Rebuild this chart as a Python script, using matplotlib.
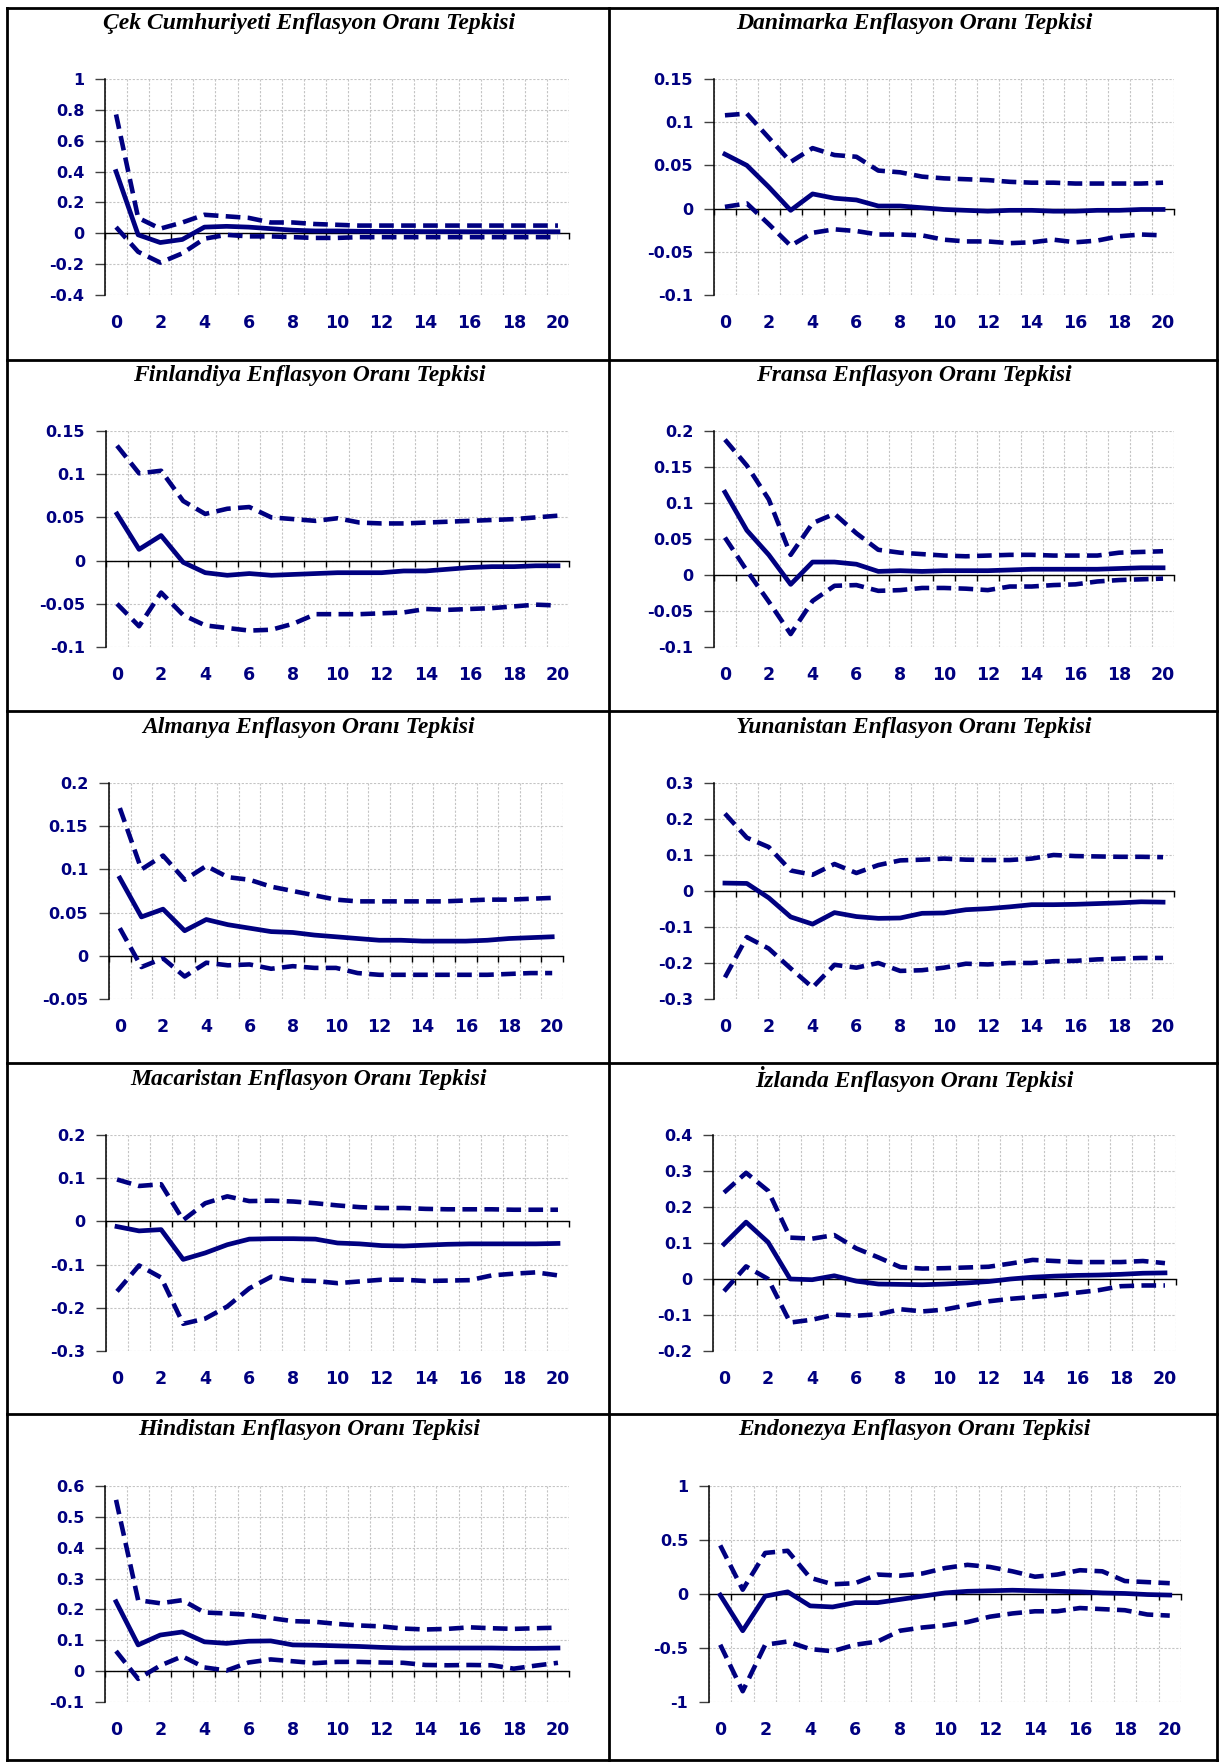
import numpy as np
import matplotlib
matplotlib.use('Agg')
import matplotlib.pyplot as plt
from matplotlib.lines import Line2D
from matplotlib.ticker import FuncFormatter

plt.rcParams['font.family'] = ['DejaVu Sans']
plt.rcParams['font.weight'] = 'bold'

navy = '#000080'
periods = np.arange(21)

titles = ['Çek Cumhuriyeti Enflasyon Oranı Tepkisi', 'Danimarka Enflasyon Oranı Tepkisi',
          'Finlandiya Enflasyon Oranı Tepkisi', 'Fransa Enflasyon Oranı Tepkisi',
          'Almanya Enflasyon Oranı Tepkisi', 'Yunanistan Enflasyon Oranı Tepkisi',
          'Macaristan Enflasyon Oranı Tepkisi', 'İzlanda Enflasyon Oranı Tepkisi',
          'Hindistan Enflasyon Oranı Tepkisi', 'Endonezya Enflasyon Oranı Tepkisi']

# impulse responses: point estimate, upper band, lower band
cek_mid = [0.40, -0.01, -0.06, -0.04, 0.04, 0.045, 0.04, 0.03, 0.02, 0.015, 0.015,
           0.013, 0.012, 0.012, 0.011, 0.011, 0.01, 0.01, 0.01, 0.01, 0.01]
cek_up = [0.77, 0.10, 0.03, 0.07, 0.12, 0.11, 0.10, 0.07, 0.07, 0.06, 0.055,
          0.05, 0.05, 0.05, 0.05, 0.05, 0.05, 0.05, 0.05, 0.05, 0.05]
cek_lo = [0.04, -0.12, -0.19, -0.13, -0.035, -0.01, -0.02, -0.02, -0.025, -0.03, -0.03,
          -0.025, -0.025, -0.025, -0.025, -0.025, -0.025, -0.025, -0.025, -0.025, -0.025]

dan_mid = [0.063, 0.050, 0.025, -0.002, 0.017, 0.012, 0.010, 0.003, 0.003, 0.001, -0.001,
           -0.002, -0.003, -0.002, -0.002, -0.003, -0.003, -0.002, -0.002, -0.001, -0.001]
dan_up = [0.108, 0.110, 0.082, 0.054, 0.070, 0.062, 0.060, 0.044, 0.042, 0.037, 0.035,
          0.034, 0.033, 0.031, 0.030, 0.030, 0.029, 0.029, 0.029, 0.029, 0.030]
dan_lo = [0.002, 0.006, -0.018, -0.043, -0.028, -0.024, -0.026, -0.030, -0.030, -0.031, -0.036,
          -0.038, -0.038, -0.040, -0.039, -0.036, -0.039, -0.037, -0.032, -0.030, -0.031]

fin_mid = [0.054, 0.013, 0.029, -0.002, -0.014, -0.017, -0.015, -0.017, -0.016, -0.015, -0.014,
           -0.014, -0.014, -0.012, -0.012, -0.010, -0.008, -0.007, -0.007, -0.006, -0.006]
fin_up = [0.133, 0.101, 0.104, 0.069, 0.054, 0.060, 0.062, 0.050, 0.048, 0.046, 0.049,
          0.044, 0.043, 0.043, 0.044, 0.045, 0.046, 0.047, 0.048, 0.050, 0.052]
fin_lo = [-0.050, -0.076, -0.037, -0.063, -0.075, -0.078, -0.081, -0.080, -0.073, -0.062, -0.062,
          -0.062, -0.061, -0.060, -0.056, -0.057, -0.056, -0.055, -0.053, -0.051, -0.052]

fra_mid = [0.115, 0.062, 0.028, -0.013, 0.018, 0.018, 0.015, 0.005, 0.006, 0.005, 0.006,
           0.006, 0.006, 0.007, 0.008, 0.008, 0.008, 0.008, 0.009, 0.010, 0.010]
fra_up = [0.188, 0.152, 0.105, 0.028, 0.072, 0.085, 0.058, 0.035, 0.031, 0.029, 0.027,
          0.026, 0.027, 0.028, 0.028, 0.027, 0.027, 0.027, 0.031, 0.032, 0.033]
fra_lo = [0.052, 0.006, -0.037, -0.082, -0.036, -0.015, -0.014, -0.022, -0.021, -0.018, -0.018,
          -0.019, -0.021, -0.016, -0.016, -0.014, -0.013, -0.009, -0.007, -0.006, -0.005]

alm_mid = [0.090, 0.045, 0.054, 0.029, 0.042, 0.036, 0.032, 0.028, 0.027, 0.024, 0.022,
           0.020, 0.018, 0.018, 0.017, 0.017, 0.017, 0.018, 0.020, 0.021, 0.022]
alm_up = [0.171, 0.100, 0.116, 0.088, 0.104, 0.091, 0.088, 0.080, 0.075, 0.070, 0.065,
          0.063, 0.063, 0.063, 0.063, 0.063, 0.064, 0.065, 0.065, 0.066, 0.067]
alm_lo = [0.032, -0.013, -0.003, -0.024, -0.008, -0.011, -0.010, -0.015, -0.012, -0.014, -0.014,
          -0.020, -0.022, -0.022, -0.022, -0.022, -0.022, -0.022, -0.021, -0.020, -0.020]

yun_mid = [0.022, 0.021, -0.019, -0.072, -0.092, -0.060, -0.071, -0.076, -0.075, -0.062, -0.061,
           -0.052, -0.049, -0.044, -0.038, -0.038, -0.037, -0.035, -0.033, -0.030, -0.031]
yun_up = [0.215, 0.148, 0.122, 0.057, 0.045, 0.075, 0.050, 0.072, 0.085, 0.087, 0.090,
          0.087, 0.086, 0.086, 0.090, 0.100, 0.097, 0.096, 0.095, 0.095, 0.094]
yun_lo = [-0.240, -0.128, -0.160, -0.215, -0.268, -0.205, -0.213, -0.200, -0.222, -0.220, -0.213,
          -0.202, -0.204, -0.200, -0.200, -0.195, -0.194, -0.190, -0.188, -0.186, -0.186]

mac_mid = [-0.012, -0.022, -0.019, -0.088, -0.073, -0.054, -0.041, -0.040, -0.040, -0.041, -0.050,
           -0.052, -0.056, -0.057, -0.055, -0.053, -0.052, -0.052, -0.052, -0.052, -0.051]
mac_up = [0.097, 0.082, 0.086, 0.003, 0.042, 0.058, 0.047, 0.048, 0.046, 0.042, 0.037,
          0.033, 0.031, 0.031, 0.029, 0.028, 0.028, 0.028, 0.027, 0.027, 0.027]
mac_lo = [-0.162, -0.102, -0.130, -0.237, -0.225, -0.197, -0.155, -0.128, -0.136, -0.138, -0.143,
          -0.139, -0.135, -0.135, -0.138, -0.137, -0.136, -0.125, -0.121, -0.118, -0.125]

izl_mid = [0.097, 0.158, 0.102, 0.000, -0.002, 0.009, -0.006, -0.014, -0.015, -0.016, -0.014,
           -0.011, -0.007, 0.000, 0.005, 0.008, 0.010, 0.011, 0.013, 0.016, 0.017]
izl_up = [0.240, 0.295, 0.245, 0.115, 0.112, 0.122, 0.085, 0.060, 0.033, 0.029, 0.030,
          0.032, 0.034, 0.043, 0.053, 0.050, 0.047, 0.047, 0.047, 0.050, 0.044]
izl_lo = [-0.034, 0.035, 0.000, -0.121, -0.113, -0.099, -0.102, -0.098, -0.084, -0.090, -0.085,
          -0.073, -0.062, -0.055, -0.050, -0.045, -0.038, -0.031, -0.020, -0.018, -0.018]

hin_mid = [0.225, 0.085, 0.117, 0.127, 0.095, 0.090, 0.097, 0.098, 0.085, 0.084, 0.082,
           0.080, 0.077, 0.075, 0.075, 0.075, 0.075, 0.075, 0.074, 0.074, 0.075]
hin_up = [0.555, 0.230, 0.220, 0.230, 0.190, 0.187, 0.183, 0.172, 0.162, 0.160, 0.153,
          0.148, 0.145, 0.138, 0.135, 0.137, 0.142, 0.139, 0.137, 0.139, 0.141]
hin_lo = [0.065, -0.025, 0.018, 0.048, 0.012, 0.002, 0.028, 0.038, 0.032, 0.026, 0.030,
          0.030, 0.028, 0.027, 0.020, 0.019, 0.020, 0.019, 0.008, 0.018, 0.027]

end_mid = [-0.01, -0.34, -0.02, 0.02, -0.11, -0.12, -0.08, -0.08, -0.05, -0.02, 0.01,
           0.025, 0.03, 0.035, 0.03, 0.025, 0.02, 0.01, 0.005, -0.005, -0.01]
end_up = [0.45, 0.04, 0.38, 0.40, 0.15, 0.09, 0.10, 0.18, 0.17, 0.19, 0.24,
          0.27, 0.25, 0.21, 0.16, 0.18, 0.22, 0.21, 0.12, 0.11, 0.10]
end_lo = [-0.47, -0.90, -0.47, -0.44, -0.51, -0.53, -0.47, -0.44, -0.34, -0.31, -0.29,
          -0.26, -0.21, -0.18, -0.16, -0.16, -0.13, -0.14, -0.15, -0.19, -0.20]

series = [(cek_mid, cek_up, cek_lo), (dan_mid, dan_up, dan_lo), (fin_mid, fin_up, fin_lo),
          (fra_mid, fra_up, fra_lo), (alm_mid, alm_up, alm_lo), (yun_mid, yun_up, yun_lo),
          (mac_mid, mac_up, mac_lo), (izl_mid, izl_up, izl_lo), (hin_mid, hin_up, hin_lo),
          (end_mid, end_up, end_lo)]

# y axis range and step for each panel
y_ranges = [(-0.4, 1.0, 0.2), (-0.1, 0.15, 0.05), (-0.1, 0.15, 0.05), (-0.1, 0.2, 0.05),
            (-0.05, 0.2, 0.05), (-0.3, 0.3, 0.1), (-0.3, 0.2, 0.1), (-0.2, 0.4, 0.1),
            (-0.1, 0.6, 0.1), (-1.0, 1.0, 0.5)]

# layout in pixels
W, H = 1219, 1762
row_tops = [79, 431, 783, 1135, 1486]
plot_h = 216
x_ext = [(105, 569), (714, 1174), (106, 569), (714, 1174), (109, 563), (714, 1174),
         (106, 569), (713, 1176), (105, 569), (709, 1181)]
title_y = [24, 376, 727, 1079, 1430]
title_x = [309, 914]

fig = plt.figure(figsize=(W / 100, H / 100), dpi=100)


def fmt(v, pos):
    s = f"{round(v, 3):g}"
    return '0' if s == '-0' else s


for i in range(10):
    row, col = divmod(i, 2)
    x0, x1 = x_ext[i]
    top = row_tops[row]
    ax = fig.add_axes([x0 / W, 1 - (top + plot_h) / H, (x1 - x0) / W, plot_h / H])
    mid, up, lo = series[i]
    ax.plot(periods, up, color=navy, lw=3.3, ls=(0, (3.2, 1.6)), zorder=3)
    ax.plot(periods, lo, color=navy, lw=3.3, ls=(0, (3.2, 1.6)), zorder=3)
    ax.plot(periods, mid, color=navy, lw=3.4, zorder=3)

    ylo, yhi, ystep = y_ranges[i]
    ax.set_xlim(-0.5, 20.5)
    ax.set_ylim(ylo, yhi)
    ax.set_yticks(np.arange(ylo, yhi + ystep / 2, ystep))
    ax.yaxis.set_major_formatter(FuncFormatter(fmt))
    ax.set_xticks(np.arange(0, 21, 2))
    ax.set_xticks(np.arange(-0.5, 21, 1), minor=True)
    ax.tick_params(axis='x', which='major', length=0, labelbottom=False)
    ax.tick_params(axis='x', which='minor', length=4, width=1, direction='out', color='black')
    ax.tick_params(axis='y', which='major', length=7, width=1, color='#404040',
                   labelsize=11.5, labelcolor=navy, pad=8)
    ax.spines['bottom'].set_position(('data', 0))
    ax.spines['bottom'].set_linewidth(1)
    ax.spines['left'].set_linewidth(1.1)
    ax.spines['top'].set_visible(False)
    ax.spines['right'].set_visible(False)
    ax.grid(which='minor', axis='x', color='#c4c4c4', ls=(0, (2, 1.5)), lw=0.8)
    ax.grid(which='major', axis='y', color='#c4c4c4', ls=(0, (2, 1.5)), lw=0.8)

    sec = ax.secondary_xaxis(0)
    sec.set_xticks(np.arange(0, 21, 2))
    sec.tick_params(length=0, pad=14, labelsize=12.5, labelcolor=navy)
    sec.spines['bottom'].set_visible(False)

    fig.text(title_x[col] / W, 1 - title_y[row] / H, titles[i], ha='center', va='center',
             fontfamily='Liberation Serif', fontstyle='italic', fontweight='bold',
             fontsize=17, color='black')

# table borders
for x in [7, 609, 1217]:
    fig.add_artist(Line2D([x / W, x / W], [1 - 8 / H, 1 - 1760 / H], transform=fig.transFigure,
                          color='black', lw=2))
for y in [8, 360, 711, 1063, 1414, 1760]:
    fig.add_artist(Line2D([7 / W, 1217 / W], [1 - y / H, 1 - y / H], transform=fig.transFigure,
                          color='black', lw=2))

fig.savefig('out.png', dpi=100)
